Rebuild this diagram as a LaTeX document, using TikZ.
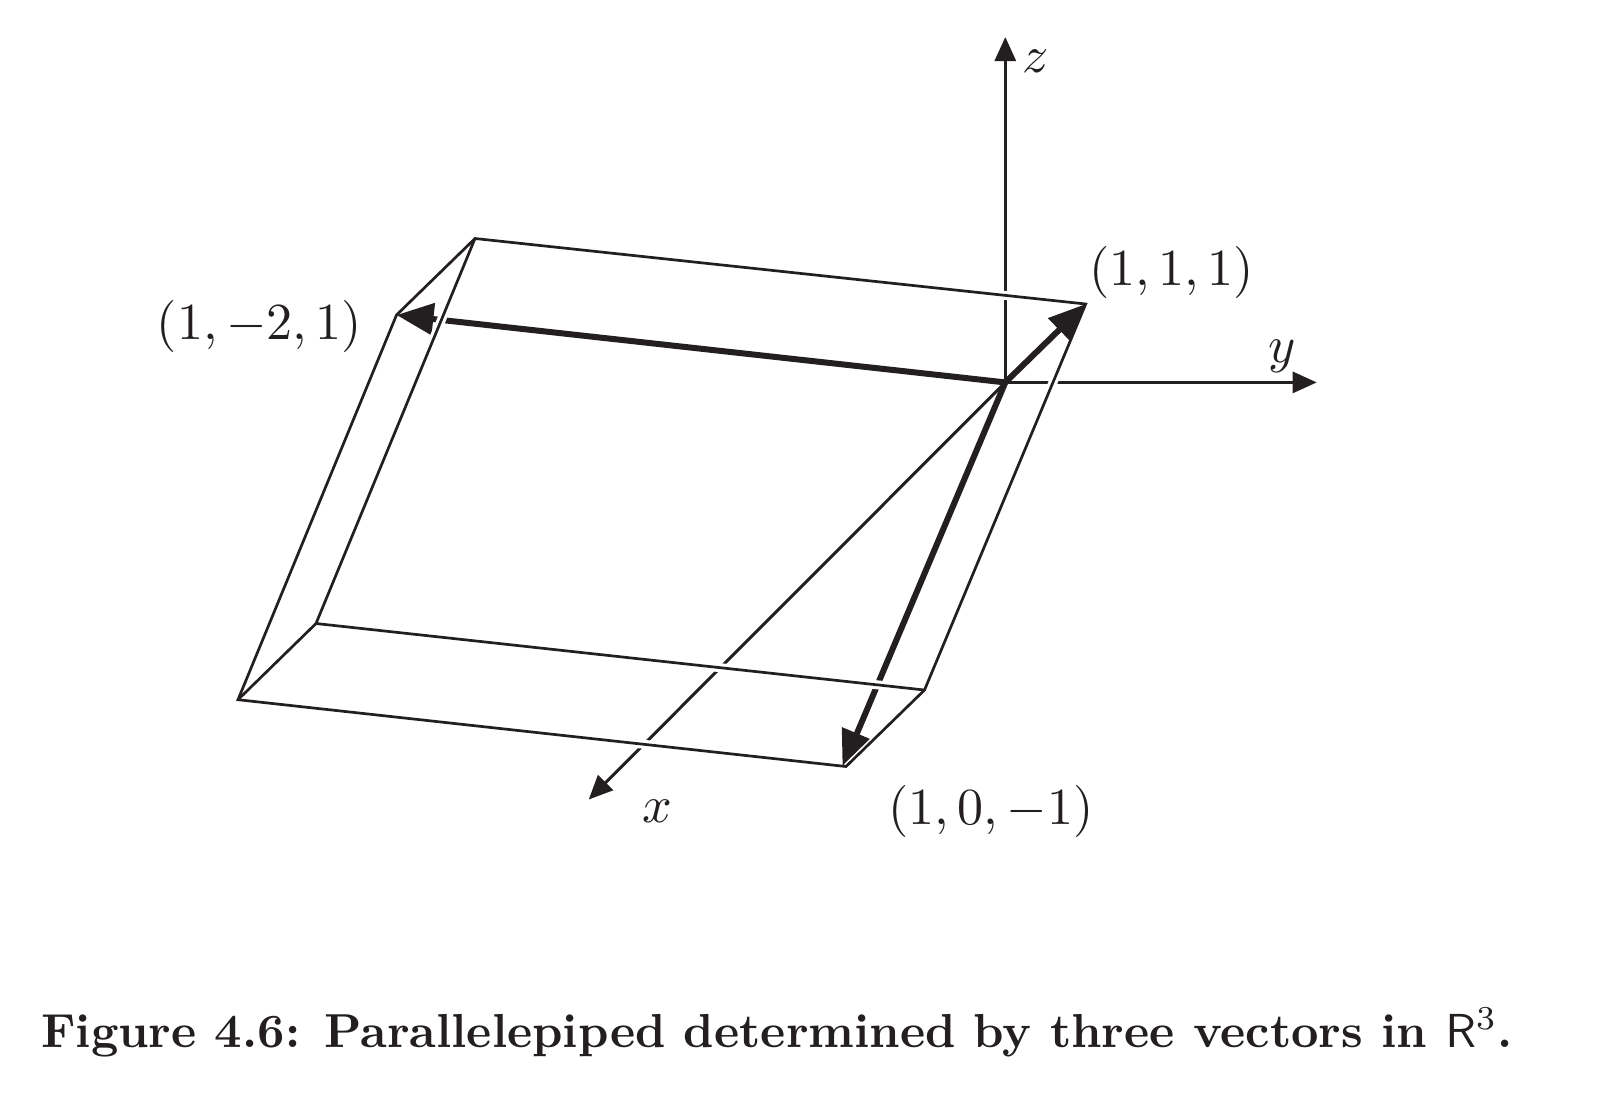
\documentclass[tikz,border=0pt]{standalone}
\usepackage{graphicx}
\usetikzlibrary{arrows.meta}
\definecolor{ink}{HTML}{231F20}
\newcommand{\lbl}[1]{\scalebox{1.04}{$#1$}}
\tikzset{
  axis/.style={draw=ink,line width=0.6pt,-{Triangle[length=4.8pt,width=4.2pt]}},
  vec/.style={draw=ink,line width=1.2pt,-{Triangle[length=7.4pt,width=6.2pt]}},
  edge/.style={draw=ink,line width=0.54pt,line cap=round,line join=miter},
  halo/.style={draw=white,line width=1.8pt,shorten >=4pt,shorten <=4pt},
  lab/.style={inner sep=0pt,anchor=base,text=ink}
}
\begin{document}
\begin{tikzpicture}[x=0.2pt,y=-0.2pt]
\useasboundingbox (0,0) rectangle (1598,1096);
\fill[white] (0,0) rectangle (1598,1096);
\coordinate (O) at (1005.3,382.4);
\coordinate (Z) at (1005.3,37);
\coordinate (Y) at (1316.7,382.4);
\coordinate (X) at (588.7,799.5);
\coordinate (A) at (1085.7,304);
\coordinate (B) at (396.5,315);
\coordinate (C) at (846,766.5);
\coordinate (Ct) at (842.5,767.5);
\coordinate (T) at (475,238.5);
\coordinate (F) at (924.5,690);
\coordinate (L) at (238,699.7);
\coordinate (K) at (316,623.5);
\draw[axis] (O) -- (Z);
\draw[axis] (O) -- (Y);
\draw[axis] (O) -- (X);
\draw[vec] (O) -- (B);
\draw[vec] (O) -- (Ct);
\draw[halo] (T) -- (A);
\draw[halo] (A) -- (F);
\draw[halo] (K) -- (F);
\draw[halo] (C) -- (L);
\draw[halo] (T) -- (K);
\draw[halo,shorten <=0pt,line width=1.2pt] (C) -- (F);
\draw[edge] (B) -- (T) -- (A) -- (F) -- (C) -- (L) -- cycle;
\draw[edge] (T) -- (K) -- (F);
\draw[edge] (K) -- (L);
\draw[vec] (O) -- (A);
\node[lab] (lz) at (1036,72) {\lbl{z}};
\node[lab] (ly) at (1282,362) {\lbl{y}};
\node[lab] (lx) at (657,822) {\lbl{x}};
\node[lab] (la) at (1171.5,285.7) {\lbl{(1,1,1)}};
\node[lab] (lb) at (259.5,339) {\lbl{(1,-2,1)}};
\node[lab] (lc) at (991,824) {\lbl{(1,0,-1)}};
\node[lab] (cap) at (777,1047) {\scalebox{0.954}{\textbf{Figure 4.6: Parallelepiped determined by three vectors in $\mathsf{R}^3$.}}};
\end{tikzpicture}
\end{document}
